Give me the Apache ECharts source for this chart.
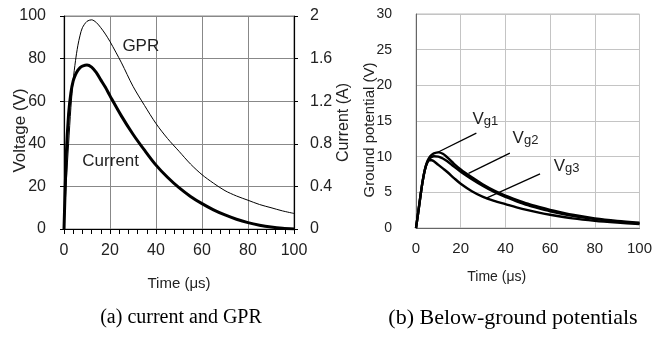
<!DOCTYPE html>
<html><head><meta charset="utf-8">
<script src="https://cdn.jsdelivr.net/npm/echarts@6/dist/echarts.min.js"></script>
<style>html,body{margin:0;padding:0;background:#fff}#c{width:655px;height:339px}</style>
</head><body><div id="c"></div>
<script>
// (a) current and GPR
var timeA = [0,1,2,3,4,5,6,7,8,10,12,14,16,18,20,25,30,35,40,45,50,55,60,65,70,75,80,85,90,95,100];
var gprV = [0,22,40,57,70,79,86,91,94.5,97.5,98.2,97,94.5,91.5,88,78,67,58,49.5,42.5,36.5,30.5,25.5,21.5,18,15.5,13.5,11.5,10,8.5,7.3];
var currentA = [0,0.70,1.08,1.28,1.39,1.45,1.49,1.516,1.53,1.54,1.52,1.47,1.40,1.33,1.25,1.06,0.89,0.74,0.60,0.486,0.388,0.306,0.238,0.18,0.132,0.092,0.06,0.036,0.018,0.006,0];
// (b) below-ground potentials
var timeB = [0,1,2,3,4,5,6,7,8,10,12,14,17,20,25,30,35,40,45,50,55,60,70,80,90,100];
var vg1 = [0,2.2,4.5,6.6,8.2,9.3,9.9,10.25,10.45,10.6,10.4,9.9,9.0,8.2,7.1,6.1,5.25,4.55,3.95,3.4,2.95,2.55,1.85,1.35,1.0,0.75];
var vg2 = [0,2.2,4.5,6.6,8.2,9.2,9.7,9.95,10.05,10.0,9.75,9.35,8.6,7.9,6.85,5.9,5.05,4.35,3.75,3.2,2.75,2.35,1.7,1.25,0.9,0.65];
var vg3 = [0,2.2,4.5,6.6,8.2,9.1,9.5,9.5,9.35,8.85,8.35,7.85,7.0,6.2,5.15,4.35,3.8,3.35,2.9,2.5,2.15,1.85,1.35,1.0,0.75,0.55];
var ticksTime = [0,20,40,60,80,100];
var ticksVoltage = [0,20,40,60,80,100];
var ticksCurrent = [0,0.4,0.8,1.2,1.6,2];
var ticksGround = [0,5,10,15,20,25,30];
// annotation anchors (data units): [index, label t, label v, arrow start t, v, arrow tip t, v]
var annB = [
  ['1', 31, 15.6, 27, 13.3, 9.3, 10.55],
  ['2', 49, 13.0, 42, 10.5, 23.5, 7.65],
  ['3', 67.4, 9.1, 55.5, 7.6, 31.5, 4.2]
];

function zip(x, y){ return x.map(function(v,i){ return [v, y[i]]; }); }
var FONT = "'Liberation Sans', Arial, sans-serif";
var TXT = '#222';

var chart = echarts.init(document.getElementById('c'), null, {renderer:'canvas'});
function ann(a){
  return {
    markLine: {
      silent: true, animation: false, symbol: ['none','arrow'], symbolSize: [0, 10],
      lineStyle: {color:'#000', width:1.3, type:'solid'}, label:{show:false},
      data: [[{coord:[a[3],a[4]]},{coord:[a[5],a[6]]}]]
    },
    markPoint: {
      silent: true, animation: false, symbol: 'rect', symbolSize: 0,
      data: [{coord:[a[1],a[2]], label:{show:true, position:'inside',
        formatter: '{v|V}{s|g' + a[0] + '}',
        rich: {v:{fontSize:17, fontFamily:FONT, color:TXT, verticalAlign:'bottom'},
               s:{fontSize:13, fontFamily:FONT, color:TXT, padding:[10,0,0,0], verticalAlign:'bottom'}}}}]
    }
  };
}
var option = {
  animation: false,
  textStyle: {fontFamily: FONT},
  grid: [
    {left:64, top:16, width:230, height:213, show:true, borderColor:'#888', borderWidth:1},
    {left:416, top:14, width:229, height:214, show:true, borderColor:'#bbb', borderWidth:1}
  ],
  xAxis: [
    {gridIndex:0, type:'value', min:0, max:100, interval:20,
     name:'Time (\u03bcs)', nameLocation:'middle', nameGap:47, nameMoveOverlap:false,
     nameTextStyle:{fontSize:15, color:TXT, fontFamily:FONT},
     axisLine:{lineStyle:{color:'#000', width:1.2}},
     axisTick:{show:true, length:5, lineStyle:{color:'#000'}},
     minorTick:{show:true, splitNumber:5, length:5, lineStyle:{color:'#000'}},
     axisLabel:{fontSize:16, color:TXT, margin:14, fontFamily:FONT},
     splitLine:{show:true, lineStyle:{color:'#888', width:1}}},
    {gridIndex:1, type:'value', min:0, max:100, interval:20,
     name:'Time (\u03bcs)', nameLocation:'middle', nameGap:42, nameMoveOverlap:false,
     nameTextStyle:{fontSize:14, color:TXT, fontFamily:FONT, padding:[0,62,0,0]},
     axisLine:{lineStyle:{color:'#666', width:1}},
     axisTick:{show:false},
     axisLabel:{fontSize:15, color:TXT, margin:13, fontFamily:FONT},
     splitLine:{show:true, lineStyle:{color:'#c4c4c4', width:1}}}
  ],
  yAxis: [
    {gridIndex:0, type:'value', min:0, max:100, interval:20,
     name:'Voltage (V)', nameLocation:'middle', nameGap:35, nameRotate:90, nameMoveOverlap:false,
     nameTextStyle:{fontSize:17, color:TXT, fontFamily:FONT, padding:[0,16,0,0]},
     axisLine:{show:true, lineStyle:{color:'#000', width:1.2}},
     axisTick:{show:true, length:4, lineStyle:{color:'#000'}},
     axisLabel:{fontSize:16, color:TXT, margin:18, fontFamily:FONT},
     splitLine:{show:true, lineStyle:{color:'#888', width:1}}},
    {gridIndex:0, type:'value', min:0, max:2, interval:0.4, position:'right',
     name:'Current (A)', nameLocation:'middle', nameGap:42, nameRotate:90, nameMoveOverlap:false,
     nameTextStyle:{fontSize:16, color:TXT, fontFamily:FONT},
     axisLine:{show:true, lineStyle:{color:'#000', width:1.2}},
     axisTick:{show:true, length:4, lineStyle:{color:'#000'}},
     axisLabel:{fontSize:16, color:TXT, margin:16, fontFamily:FONT,
       formatter:function(v){ return String(+v.toFixed(1)); }},
     splitLine:{show:false}},
    {gridIndex:1, type:'value', min:0, max:30, interval:5,
     name:'Ground potential (V)', nameLocation:'middle', nameGap:39, nameRotate:90, nameMoveOverlap:false,
     nameTextStyle:{fontSize:15, color:TXT, fontFamily:FONT, padding:[0,18,0,0]},
     axisLine:{show:true, lineStyle:{color:'#666', width:1}},
     axisTick:{show:false},
     axisLabel:{fontSize:14, color:TXT, margin:24, fontFamily:FONT},
     splitLine:{show:true, lineStyle:{color:'#c4c4c4', width:1}}}
  ],
  series: [
    {name:'GPR', type:'line', xAxisIndex:0, yAxisIndex:0, data:zip(timeA,gprV), smooth:0.3,
     showSymbol:false, lineStyle:{color:'#000', width:1}, z:3,
     markPoint:{silent:true, animation:false, symbol:'rect', symbolSize:0,
       data:[{coord:[33.4,86], label:{show:true, position:'inside', formatter:'GPR', fontSize:17, color:TXT, fontFamily:FONT}}]}},
    {name:'Current', type:'line', xAxisIndex:0, yAxisIndex:1, data:zip(timeA,currentA), smooth:0.3,
     showSymbol:false, lineStyle:{color:'#000', width:3}, z:3,
     markPoint:{silent:true, animation:false, symbol:'rect', symbolSize:0,
       data:[{coord:[20.3,0.636], label:{show:true, position:'inside', formatter:'Current', fontSize:17, color:TXT, fontFamily:FONT}}]}},
    Object.assign({name:'Vg1', type:'line', xAxisIndex:1, yAxisIndex:2, data:zip(timeB,vg1), smooth:0.3,
     showSymbol:false, lineStyle:{color:'#000', width:2.4}}, ann(annB[0])),
    Object.assign({name:'Vg2', type:'line', xAxisIndex:1, yAxisIndex:2, data:zip(timeB,vg2), smooth:0.3,
     showSymbol:false, lineStyle:{color:'#000', width:2.4}}, ann(annB[1])),
    Object.assign({name:'Vg3', type:'line', xAxisIndex:1, yAxisIndex:2, data:zip(timeB,vg3), smooth:0.3,
     showSymbol:false, lineStyle:{color:'#000', width:2.4}}, ann(annB[2]))
  ],
  graphic: [
    {type:'text', x:181, y:318, style:{text:'(a) current and GPR', font:"20px 'Liberation Serif', 'Times New Roman', serif", fill:'#000', textAlign:'center', textVerticalAlign:'middle'}},
    {type:'text', x:513, y:318, style:{text:'(b) Below-ground potentials', font:"22px 'Liberation Serif', 'Times New Roman', serif", fill:'#000', textAlign:'center', textVerticalAlign:'middle'}}
  ]
};
chart.setOption(option);
</script></body></html>
